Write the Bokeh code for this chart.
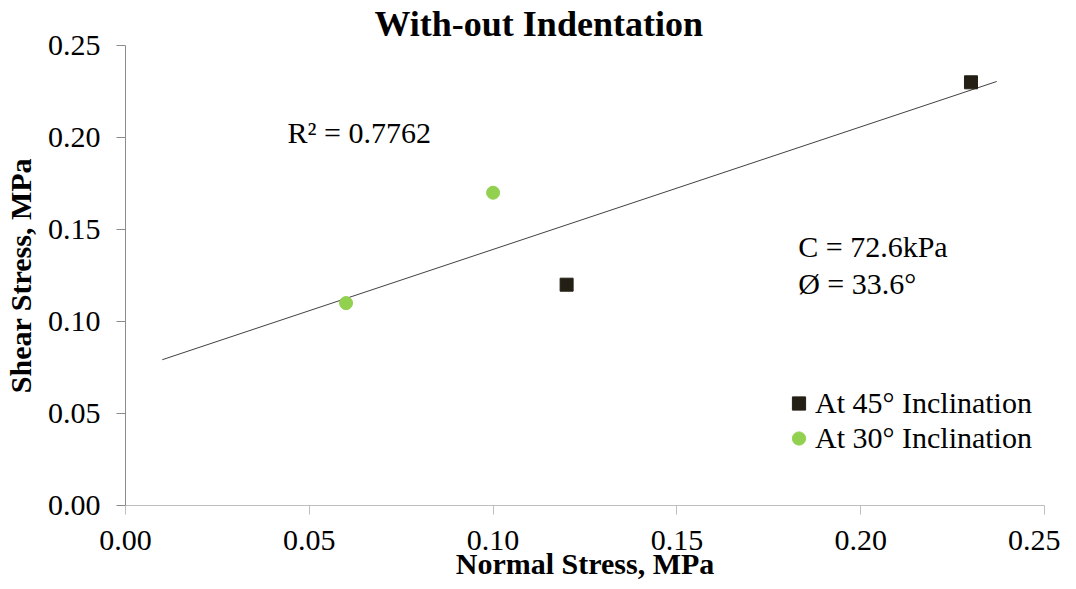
import numpy as np
from bokeh.plotting import figure
from bokeh.models import Label, Legend, LegendItem, Title, FixedTicker, NumeralTickFormatter
from bokeh.embed import file_html
from bokeh.resources import INLINE

# Data
x45 = [0.12, 0.23]
y45 = [0.12, 0.23]
x30 = [0.06, 0.10]
y30 = [0.11, 0.17]
trend_x_range = [0.01, 0.237]
r2_text = "R² = 0.7762"
c_text = "C = 72.6kPa"
phi_text = "Ø = 33.6°"
x_ticks = [0.00, 0.05, 0.10, 0.15, 0.20, 0.25]
y_ticks = [0.00, 0.05, 0.10, 0.15, 0.20, 0.25]

FONT = "Liberation Serif"

all_x = np.array(x45 + x30)
all_y = np.array(y45 + y30)
slope, intercept = np.polyfit(all_x, all_y, 1)
tx = np.array(trend_x_range)
ty = slope * tx + intercept

p = figure(width=1060, height=582, output_backend="svg", toolbar_location=None,
           x_range=(0, 0.25), y_range=(0, 0.25),
           min_border_left=120, min_border_right=16, min_border_top=44, min_border_bottom=70)
p.outline_line_color = None
p.xgrid.visible = False
p.ygrid.visible = False
p.background_fill_color = "white"

# title
t = Title(text="With-out Indentation", align="left", offset=249,
          text_font=FONT, text_font_size="36px", text_font_style="bold",
          text_color="black", standoff=3)
p.add_layout(t, "above")

# trendline
p.line(tx, ty, line_color="#404040", line_width=1)

r45 = p.scatter(x45, y45, marker="square", size=13, fill_color="#231f14", line_color="#231f14")
r30 = p.scatter(x30, y30, marker="circle", size=13, fill_color="#92d050", line_color="#92d050")

# axes
for ax in (p.xaxis[0], p.yaxis[0]):
    ax.major_label_text_font = FONT
    ax.major_label_text_font_size = "30px"
    ax.major_label_text_color = "black"
    ax.axis_label_text_font = FONT
    ax.axis_label_text_font_size = "30px"
    ax.axis_label_text_font_style = "bold"
    ax.axis_label_text_color = "black"
    ax.minor_tick_line_color = None
    ax.major_tick_in = 0
    ax.major_tick_out = 9

p.xaxis[0].ticker = FixedTicker(ticks=x_ticks)
p.yaxis[0].ticker = FixedTicker(ticks=y_ticks)
p.xaxis[0].formatter = NumeralTickFormatter(format="0.00")
p.yaxis[0].formatter = NumeralTickFormatter(format="0.00")

p.xaxis[0].axis_label = "Normal Stress, MPa"
p.yaxis[0].axis_label = "Shear Stress, MPa"
p.xaxis[0].axis_line_color = "#bfbfbf"
p.xaxis[0].major_tick_line_color = "#bfbfbf"
p.yaxis[0].axis_line_color = "#8c8c8c"
p.yaxis[0].major_tick_line_color = "#8c8c8c"
p.xaxis[0].major_label_standoff = 16
p.yaxis[0].major_label_standoff = 16
p.xaxis[0].axis_label_standoff = -6
p.yaxis[0].axis_label_standoff = 8

# annotations
for txt, xx, yy in [(r2_text, 0.0441, 0.2027), (c_text, 0.1830, 0.1407), (phi_text, 0.1830, 0.1207)]:
    p.add_layout(Label(x=xx, y=yy, text=txt, text_font=FONT, text_font_size="30px",
                       text_baseline="middle", text_align="left", text_color="black"))

legend = Legend(items=[LegendItem(label="At 45° Inclination", renderers=[r45]),
                       LegendItem(label="At 30° Inclination", renderers=[r30])],
                location=(657, 50), orientation="vertical",
                label_text_font=FONT, label_text_font_size="30px",
                label_text_color="black",
                border_line_color=None, background_fill_alpha=0,
                padding=0, spacing=1, glyph_width=33, glyph_height=34,
                label_standoff=-2, label_height=34)
p.add_layout(legend, "center")

open("out.html", "w").write(file_html(p, INLINE))
